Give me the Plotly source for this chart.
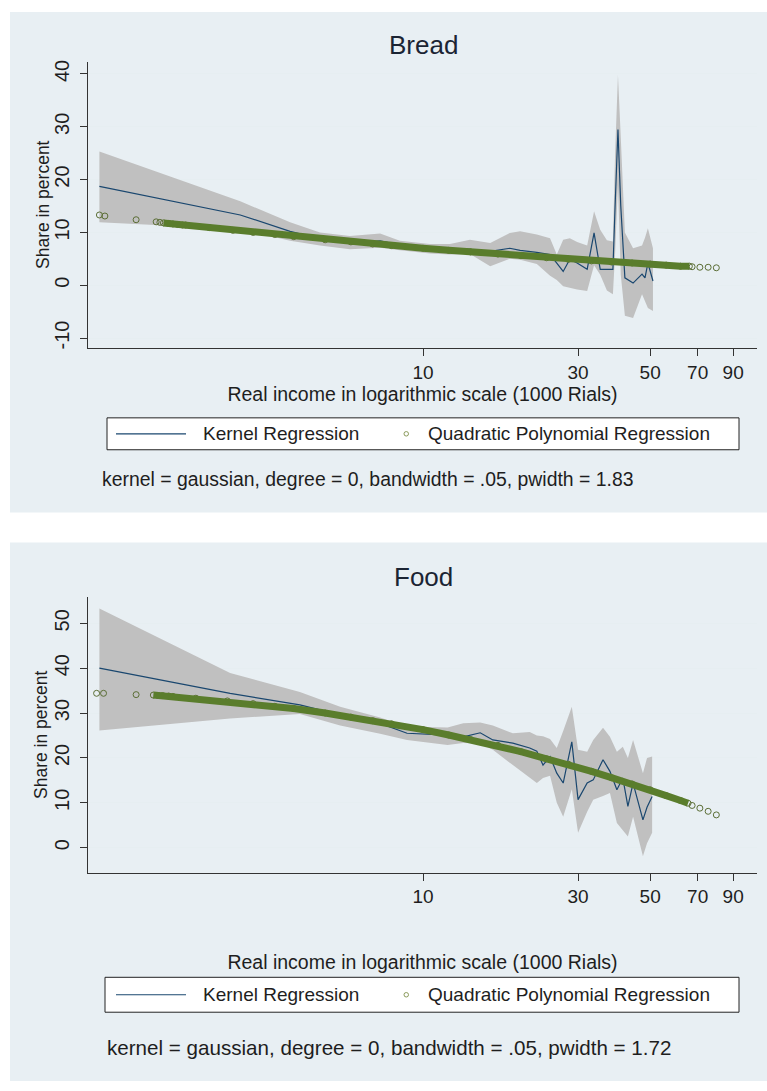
import plotly.graph_objects as go

# ---------------- Bread ----------------
bread_x = [1.01, 2.74, 3.90, 4.82, 5.96, 7.38, 8.49, 10.5, 12.1, 13.95, 16.1, 18.5, 19.9,
           22.4, 24.6, 25.8, 27.0, 28.3, 29.8, 32.0, 33.6, 35.1, 36.8, 38.4, 39.0, 39.8,
           40.6, 41.8, 44.3, 47.2, 48.2, 49.2, 51.0]
bread_kernel = [18.7, 13.3, 10.2, 8.8, 7.9, 8.4, 7.6, 7.1, 6.9, 6.8, 6.4, 7.0, 6.6,
                6.2, 5.8, 4.2, 2.6, 4.9, 4.2, 3.0, 9.9, 3.0, 3.0, 3.0, 15.0, 29.5,
                15.0, 1.4, 0.4, 2.1, 1.4, 4.2, 0.8]
bread_lo = [11.9, 10.6, 8.4, 7.5, 6.8, 7.1, 6.6, 6.0, 5.8, 5.9, 3.6, 5.0, 4.8,
            4.0, 1.8, 1.0, -0.2, -0.5, -0.8, -1.1, 3.8, 2.0, -1.0, -1.7, 6.0, 19.0,
            2.0, -5.8, -6.2, -1.7, -3.0, -4.3, -4.9]
bread_hi = [25.3, 15.9, 11.9, 10.0, 9.3, 9.8, 8.4, 7.8, 7.8, 8.6, 8.0, 9.9, 10.2,
            9.6, 8.9, 5.8, 8.6, 8.9, 8.2, 7.5, 14.0, 10.5, 8.5, 8.3, 25.0, 39.8,
            28.0, 10.0, 7.0, 7.5, 9.0, 10.8, 7.0]
bread_poly_x = [1.01, 1.05, 1.31, 1.51, 1.55, 1.59, 1.65, 1.70, 1.76, 1.82, 1.86, 2.2, 2.6,
                3.0, 3.5, 4.0, 5.0, 6.0, 7.0, 8.0, 10, 12, 14, 17, 20, 24, 28, 33, 38,
                44, 50, 56, 62, 66, 67.3, 71.1, 75.4, 79.9]
bread_poly_y = [13.3, 13.1, 12.4, 12.0, 11.9, 11.8, 11.7, 11.6, 11.5, 11.4, 11.4, 10.9, 10.4,
                10.0, 9.6, 9.2, 8.6, 8.2, 7.8, 7.5, 7.0, 6.6, 6.3, 5.9, 5.6, 5.2, 4.9, 4.6,
                4.4, 4.2, 4.0, 3.8, 3.6, 3.6, 3.5, 3.4, 3.4, 3.3]

# ---------------- Food ----------------
food_x = [1.01, 2.55, 4.18, 5.56, 7.38, 8.93, 11.9, 13.3, 15.0, 16.4, 18.9, 21.3, 22.4,
          23.4, 24.6, 25.8, 27.0, 28.7, 30.0, 32.0, 33.4, 35.8, 37.6, 39.5, 41.2, 42.7,
          44.3, 47.5, 48.9, 50.7]
food_kernel = [40.0, 34.4, 31.8, 29.6, 27.7, 25.5, 25.1, 24.7, 25.6, 24.0, 23.3, 22.2, 21.5,
               18.4, 20.3, 16.6, 14.4, 23.6, 10.7, 14.4, 15.1, 19.6, 17.0, 12.9, 15.5, 9.2,
               14.4, 6.2, 9.0, 11.4]
food_lo = [26.1, 28.8, 29.8, 27.2, 25.4, 24.0, 22.9, 23.3, 23.2, 21.8, 18.4, 15.5, 14.4,
           15.5, 16.0, 10.0, 6.9, 13.0, 3.3, 8.0, 10.7, 11.5, 12.2, 5.5, 4.0, 2.5,
           6.9, -1.9, 1.0, 3.3]
food_hi = [53.3, 38.9, 34.7, 31.4, 29.0, 27.0, 26.8, 27.7, 27.9, 27.2, 25.5, 25.8, 25.0,
           24.8, 24.2, 22.2, 26.0, 31.4, 21.8, 21.4, 24.0, 26.7, 24.7, 21.4, 22.5, 20.0,
           24.0, 16.6, 20.0, 20.3]
food_poly_x = [0.99, 1.04, 1.31, 1.48, 1.53, 1.58, 1.65, 1.70, 2.0, 2.5, 3.0, 3.5, 4.0,
               5.0, 6.0, 7.0, 8.0, 10, 12, 14, 17, 20, 24, 28, 33, 38, 44, 50, 56, 62,
               65.4, 67.3, 71.1, 75.4, 79.9]
food_poly_y = [34.4, 34.4, 34.1, 34.0, 33.9, 33.9, 33.8, 33.7, 33.3, 32.7, 32.1, 31.5, 31.0,
               30.0, 29.1, 28.3, 27.6, 26.3, 25.1, 24.1, 22.8, 21.4, 19.8, 18.6, 17.0, 15.6,
               14.2, 12.9, 11.6, 10.5, 9.9, 9.4, 8.8, 8.1, 7.3]

x_tick_vals = [10, 30, 50, 70, 90]
x_tick_text = ["10", "30", "50", "70", "90"]
bread_y_ticks = [-10, 0, 10, 20, 30, 40]
bread_y_text = ["-10", "0", "10", "20", "30", "40"]
food_y_ticks = [0, 10, 20, 30, 40, 50]
food_y_text = ["0", "10", "20", "30", "40", "50"]

titles = ["Bread", "Food"]
x_title = "Real income in logarithmic scale (1000 Rials)"
y_title = "Share in percent"
notes = ["kernel = gaussian, degree = 0, bandwidth = .05, pwidth = 1.83",
         "kernel = gaussian, degree = 0, bandwidth = .05, pwidth = 1.72"]
kernel_name = "Kernel Regression"
poly_name = "Quadratic Polynomial Regression"

# ---------------- styling ----------------
W, H = 767, 1091
FONT = "Liberation Sans, Arial, sans-serif"
NAVY = "#1a476f"
GREEN = "#5a7d2c"
CIRC = "#5b6e35"
BAND = "#c0c0c0"
PANEL = "#e8eff3"
GRID = "#e6eef1"
TXT = "#1e1e1e"


def px_x(p):
    return p / W


def px_y(p):
    return 1 - p / H


fig = go.Figure()

panels = [
    dict(x=bread_x, k=bread_kernel, lo=bread_lo, hi=bread_hi, px=bread_poly_x, py=bread_poly_y,
         xa="x", ya="y", dense=(5, 34)),
    dict(x=food_x, k=food_kernel, lo=food_lo, hi=food_hi, px=food_poly_x, py=food_poly_y,
         xa="x2", ya="y2", dense=(3, 31)),
]

for p in panels:
    fig.add_trace(go.Scatter(x=p["x"], y=p["lo"], mode="lines", line=dict(width=0, color=BAND),
                             showlegend=False, hoverinfo="skip", xaxis=p["xa"], yaxis=p["ya"]))
    fig.add_trace(go.Scatter(x=p["x"], y=p["hi"], mode="lines", line=dict(width=0, color=BAND),
                             fill="tonexty", fillcolor=BAND, showlegend=False, hoverinfo="skip",
                             xaxis=p["xa"], yaxis=p["ya"]))
    fig.add_trace(go.Scatter(x=p["x"], y=p["k"], mode="lines", name=kernel_name,
                             line=dict(width=1.2, color=NAVY), showlegend=False,
                             xaxis=p["xa"], yaxis=p["ya"]))
    fig.add_trace(go.Scatter(x=p["px"], y=p["py"], mode="markers", name=poly_name,
                             marker=dict(symbol="circle-open", size=6, color=CIRC,
                                         line=dict(width=1, color=CIRC)),
                             showlegend=False, xaxis=p["xa"], yaxis=p["ya"]))
    a, b = p["dense"]
    fig.add_trace(go.Scatter(x=p["px"][a:b], y=p["py"][a:b], mode="lines",
                             line=dict(width=7, color=GREEN), showlegend=False,
                             hoverinfo="skip", xaxis=p["xa"], yaxis=p["ya"]))

# panel backgrounds
for (t, b) in [(10, 512), (542, 1082)]:
    fig.add_shape(type="rect", xref="paper", yref="paper", x0=px_x(10), x1=1.0,
                  y0=px_y(b), y1=px_y(t), fillcolor=PANEL, line=dict(width=0), layer="below")

# legend boxes (drawn manually, one per panel)
for (t, b, l) in [(417, 449, 107), (978, 1013, 105)]:
    yc = (t + b) / 2
    fig.add_shape(type="rect", xref="paper", yref="paper", x0=px_x(l), x1=px_x(739),
                  y0=px_y(b), y1=px_y(t), fillcolor="white", line=dict(width=1, color="#222"))
    fig.add_shape(type="line", xref="paper", yref="paper", x0=px_x(116), x1=px_x(186),
                  y0=px_y(yc), y1=px_y(yc), line=dict(width=1.2, color=NAVY))
    fig.add_shape(type="circle", xref="paper", yref="paper", x0=px_x(404), x1=px_x(408.5),
                  y0=px_y(yc + 2.25), y1=px_y(yc - 2.25), line=dict(width=1, color="#8a9a5a"))
    fig.add_annotation(text=kernel_name, xref="paper", yref="paper", x=px_x(201), y=px_y(yc),
                       showarrow=False, xanchor="left", yanchor="middle",
                       font=dict(family=FONT, size=19, color=TXT))
    fig.add_annotation(text=poly_name, xref="paper", yref="paper", x=px_x(426), y=px_y(yc),
                       showarrow=False, xanchor="left", yanchor="middle",
                       font=dict(family=FONT, size=19, color=TXT))

xdom = [px_x(88), px_x(757)]
xrange_log = [1 + (88 - 423) / 325, 1 + (757 - 423) / 325]

common_x = dict(type="log", range=xrange_log, domain=xdom, tickmode="array",
                tickvals=x_tick_vals, ticktext=x_tick_text, ticks="outside", ticklen=7,
                tickcolor="#333", showline=True, linecolor="#333", linewidth=1,
                showgrid=False, zeroline=False,
                tickfont=dict(family=FONT, size=19, color=TXT),
                title=dict(text=x_title, font=dict(family=FONT, size=19.5, color=TXT)))
common_y = dict(ticks="outside", ticklen=7, tickcolor="#333", showline=True, linecolor="#333",
                linewidth=1, showgrid=True, gridcolor=GRID, gridwidth=1, zeroline=False,
                tickangle=-90, tickmode="array", ticklabelstandoff=3,
                tickfont=dict(family=FONT, size=20, color=TXT))

fig.update_layout(
    width=W, height=H, margin=dict(l=0, r=0, t=0, b=0),
    paper_bgcolor="white", plot_bgcolor="white", showlegend=False,
    font=dict(family=FONT, color=TXT),
    xaxis=dict(**common_x, anchor="y"),
    yaxis=dict(**common_y, domain=[px_y(347), px_y(60)], range=[-11.9, 42.3],
               tickvals=bread_y_ticks, ticktext=bread_y_text, anchor="x"),
    xaxis2=dict(**common_x, anchor="y2"),
    yaxis2=dict(**common_y, domain=[px_y(873), px_y(597)], range=[-5.56, 55.78],
                tickvals=food_y_ticks, ticktext=food_y_text, anchor="x2"),
)
fig.layout.xaxis.title.standoff = 3
fig.layout.xaxis2.title.standoff = 48

# y-axis titles
for yc, xc in [((60 + 347) / 2, 43), ((597 + 873) / 2, 41)]:
    fig.add_annotation(text=y_title, xref="paper", yref="paper", x=px_x(xc), y=px_y(yc),
                       showarrow=False, textangle=-90, xanchor="center", yanchor="middle",
                       font=dict(family=FONT, size=17.5, color=TXT))

for title, yc in zip(titles, [43, 577]):
    fig.add_annotation(text=title, xref="paper", yref="paper", x=px_x(423), y=px_y(yc),
                       showarrow=False, font=dict(family=FONT, size=26, color="#1b2433"),
                       xanchor="center", yanchor="middle")
for note, yc, xl, fs in zip(notes, [478, 1048], [100, 105], [19.4, 20.6]):
    fig.add_annotation(text=note, xref="paper", yref="paper", x=px_x(xl), y=px_y(yc),
                       showarrow=False, font=dict(family=FONT, size=fs, color=TXT),
                       xanchor="left", yanchor="middle")

fig.write_html("out.html")
